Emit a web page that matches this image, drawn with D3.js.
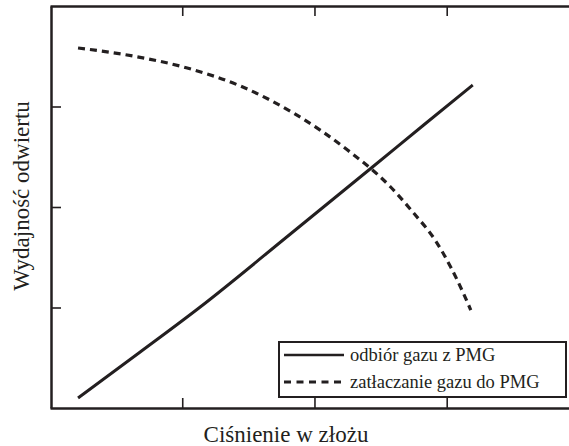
<!DOCTYPE html>
<html>
<head>
<meta charset="utf-8">
<script src="https://cdn.jsdelivr.net/npm/d3@7"></script>
<style>
  html, body { margin: 0; padding: 0; background: #fff; }
  svg { display: block; }
</style>
</head>
<body>
<svg id="chart" width="569" height="446"></svg>
<script>
// Data (arbitrary units)
const xTicks = [1, 2, 3];
const yTicks = [1, 2, 3];
const seriesNames = ["odbiór gazu z PMG", "zatłaczanie gazu do PMG"];
const withdrawalX = [0.212, 0.682, 1.136, 1.818, 2.439, 2.826, 3.197];
const withdrawalY = [0.100, 0.557, 1.005, 1.731, 2.398, 2.816, 3.214];
const injectionX = [0.212, 0.629, 1.038, 1.439, 1.841, 2.250, 2.576, 2.750, 2.917, 3.030, 3.129, 3.182];
const injectionY = [3.582, 3.502, 3.383, 3.204, 2.935, 2.567, 2.199, 1.940, 1.662, 1.403, 1.134, 0.975];
const xLabel = "Ciśnienie w złożu";
const yLabel = "Wydajność odwiertu";

const FONT = '"Liberation Serif", serif';
const svg = d3.select("#chart");
const mLeft = 51, mRight = 571, mTop = 6, mBottom = 408;
const x = d3.scaleLinear().domain([0, 3.94]).range([mLeft - 1, mRight]);
const y = d3.scaleLinear().domain([0, 4]).range([mBottom, mTop]);
const ink = "#231f20";

const axisStyle = g => {
  g.select(".domain").attr("stroke", ink).attr("stroke-width", 2.5);
  g.selectAll(".tick line").attr("stroke", ink).attr("stroke-width", 1.6);
  g.selectAll(".tick text").remove();
};
svg.append("g").attr("transform", `translate(0,${mBottom})`)
  .call(d3.axisTop(x).tickValues(xTicks).tickSize(10).tickSizeOuter(0)).call(axisStyle);
svg.append("g").attr("transform", `translate(0,${mTop})`)
  .call(d3.axisBottom(x).tickValues(xTicks).tickSize(10).tickSizeOuter(0)).call(axisStyle);
svg.append("g").attr("transform", `translate(${mLeft},0)`)
  .call(d3.axisRight(y).tickValues(yTicks).tickSize(10).tickSizeOuter(0)).call(axisStyle);

const line = d3.line().x(d => x(d[0])).y(d => y(d[1])).curve(d3.curveMonotoneX);
const wd = withdrawalX.map((v, i) => [v, withdrawalY[i]]);
const inj = injectionX.map((v, i) => [v, injectionY[i]]);

svg.append("path").datum(wd).attr("d", line)
  .attr("fill", "none").attr("stroke", ink).attr("stroke-width", 3);
svg.append("path").datum(inj).attr("d", line)
  .attr("fill", "none").attr("stroke", ink).attr("stroke-width", 3.2)
  .attr("stroke-dasharray", "7,5");

// Legend
const lg = svg.append("g");
lg.append("rect").attr("x", 279).attr("y", 342).attr("width", 287).attr("height", 55)
  .attr("fill", "#fff").attr("stroke", ink).attr("stroke-width", 2);
seriesNames.forEach((name, i) => {
  const ly = 355 + i * 27;
  lg.append("line").attr("x1", 284).attr("x2", 344).attr("y1", ly).attr("y2", ly)
    .attr("stroke", ink).attr("stroke-width", i === 0 ? 2.6 : 3)
    .attr("stroke-dasharray", i === 0 ? null : "7,5.5");
  lg.append("text").attr("x", 350).attr("y", ly + 6).attr("font-size", 18.5)
    .style("font-family", FONT).attr("fill", ink).text(name);
});

// Axis titles
svg.append("text").attr("x", 286).attr("y", 442).attr("text-anchor", "middle")
  .style("font-family", FONT).attr("font-size", 23).attr("fill", ink).text(xLabel);
svg.append("text").attr("transform", "translate(29,196) rotate(-90)")
  .attr("text-anchor", "middle").style("font-family", FONT)
  .attr("font-size", 23).attr("fill", ink).text(yLabel);
</script>
</body>
</html>
